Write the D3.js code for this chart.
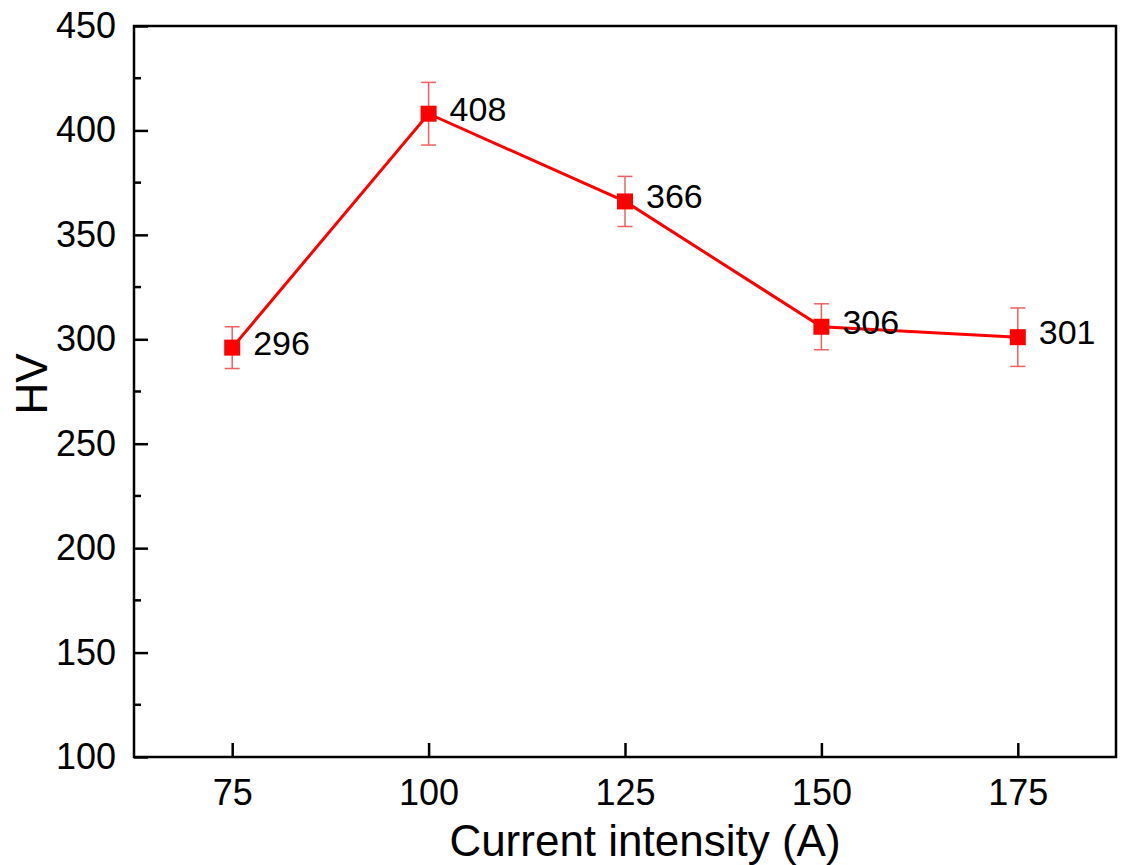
<!DOCTYPE html>
<html>
<head>
<meta charset="utf-8">
<script src="https://cdn.jsdelivr.net/npm/d3@7"></script>
<style>
  body { margin: 0; background: #fff; }
  svg { display: block; font-family: "Liberation Sans", Arial, sans-serif; }
</style>
</head>
<body>
<script>
// Hardness vs current intensity
const current = [75, 100, 125, 150, 175];
const hv = [296, 408, 366, 306, 301];
const hvErr = [10, 15, 12, 11, 14];
const xTicks = [75, 100, 125, 150, 175];
const yTicks = [100, 150, 200, 250, 300, 350, 400, 450];

const W = 1121, H = 865;
const margin = {top: 26, right: 5, bottom: 108, left: 134};
const width = W - margin.left - margin.right;
const height = H - margin.top - margin.bottom;

const data = current.map((c, i) => ({x: c, y: hv[i], e: hvErr[i]}));

const x = d3.scaleLinear().domain([62.5, 187.5]).range([0, width]);
const y = d3.scaleLinear().domain([100, 450]).range([height, 0]);

const svg = d3.select("body").append("svg")
  .attr("width", W)
  .attr("height", H);

const g = svg.append("g")
  .attr("transform", "translate(" + margin.left + "," + margin.top + ")");

// frame
g.append("rect")
  .attr("width", width)
  .attr("height", height)
  .attr("fill", "none")
  .attr("stroke", "#000")
  .attr("stroke-width", 2.5);

// x axis, ticks pointing in
const xAxis = g.append("g")
  .attr("transform", "translate(0," + height + ")")
  .call(d3.axisBottom(x).tickValues(xTicks).tickSizeInner(-14).tickSizeOuter(0).tickPadding(22));
xAxis.select(".domain").remove();
xAxis.selectAll("line").attr("stroke-width", 2.5);
xAxis.selectAll("text").style("font-size", "36px").attr("fill", "#000");

// y axis
const yAxis = g.append("g")
  .call(d3.axisLeft(y).tickValues(yTicks).tickSizeInner(-14).tickSizeOuter(0).tickPadding(18));
yAxis.select(".domain").remove();
yAxis.selectAll("line").attr("stroke-width", 2.5);
yAxis.selectAll("text").style("font-size", "36px").attr("fill", "#000");

// minor y ticks
const yMinor = d3.range(125, 450, 50);
g.append("g")
  .selectAll("line")
  .data(yMinor)
  .join("line")
  .attr("x1", 0)
  .attr("x2", 7)
  .attr("y1", d => y(d))
  .attr("y2", d => y(d))
  .attr("stroke", "#000")
  .attr("stroke-width", 2.5);

// axis titles
svg.append("text")
  .attr("x", 645)
  .attr("y", 856)
  .attr("text-anchor", "middle")
  .style("font-size", "44px")
  .text("Current intensity (A)");

svg.append("text")
  .attr("transform", "translate(47,384) rotate(-90)")
  .attr("text-anchor", "middle")
  .style("font-size", "44px")
  .text("HV");

// error bars
const eb = g.append("g")
  .attr("stroke", "#f06060")
  .attr("stroke-width", 1.5);
eb.selectAll(".v")
  .data(data)
  .join("line")
  .attr("x1", d => x(d.x))
  .attr("x2", d => x(d.x))
  .attr("y1", d => y(d.y + d.e))
  .attr("y2", d => y(d.y - d.e));
eb.selectAll(".top")
  .data(data)
  .join("line")
  .attr("class", "top")
  .attr("x1", d => x(d.x) - 7.5)
  .attr("x2", d => x(d.x) + 7.5)
  .attr("y1", d => y(d.y + d.e))
  .attr("y2", d => y(d.y + d.e));
eb.selectAll(".bot")
  .data(data)
  .join("line")
  .attr("class", "bot")
  .attr("x1", d => x(d.x) - 7.5)
  .attr("x2", d => x(d.x) + 7.5)
  .attr("y1", d => y(d.y - d.e))
  .attr("y2", d => y(d.y - d.e));

// line
g.append("path")
  .datum(data)
  .attr("fill", "none")
  .attr("stroke", "#ff0000")
  .attr("stroke-width", 3)
  .attr("d", d3.line().x(d => x(d.x)).y(d => y(d.y)));

// square markers
g.selectAll(".pt")
  .data(data)
  .join("rect")
  .attr("class", "pt")
  .attr("x", d => x(d.x) - 8)
  .attr("y", d => y(d.y) - 8)
  .attr("width", 16)
  .attr("height", 16)
  .attr("fill", "#ff0000");

// value labels
g.selectAll(".lbl")
  .data(data)
  .join("text")
  .attr("class", "lbl")
  .attr("x", d => x(d.x) + 21)
  .attr("y", d => y(d.y) + 7)
  .style("font-size", "34px")
  .text(d => d.y);
</script>
</body>
</html>
